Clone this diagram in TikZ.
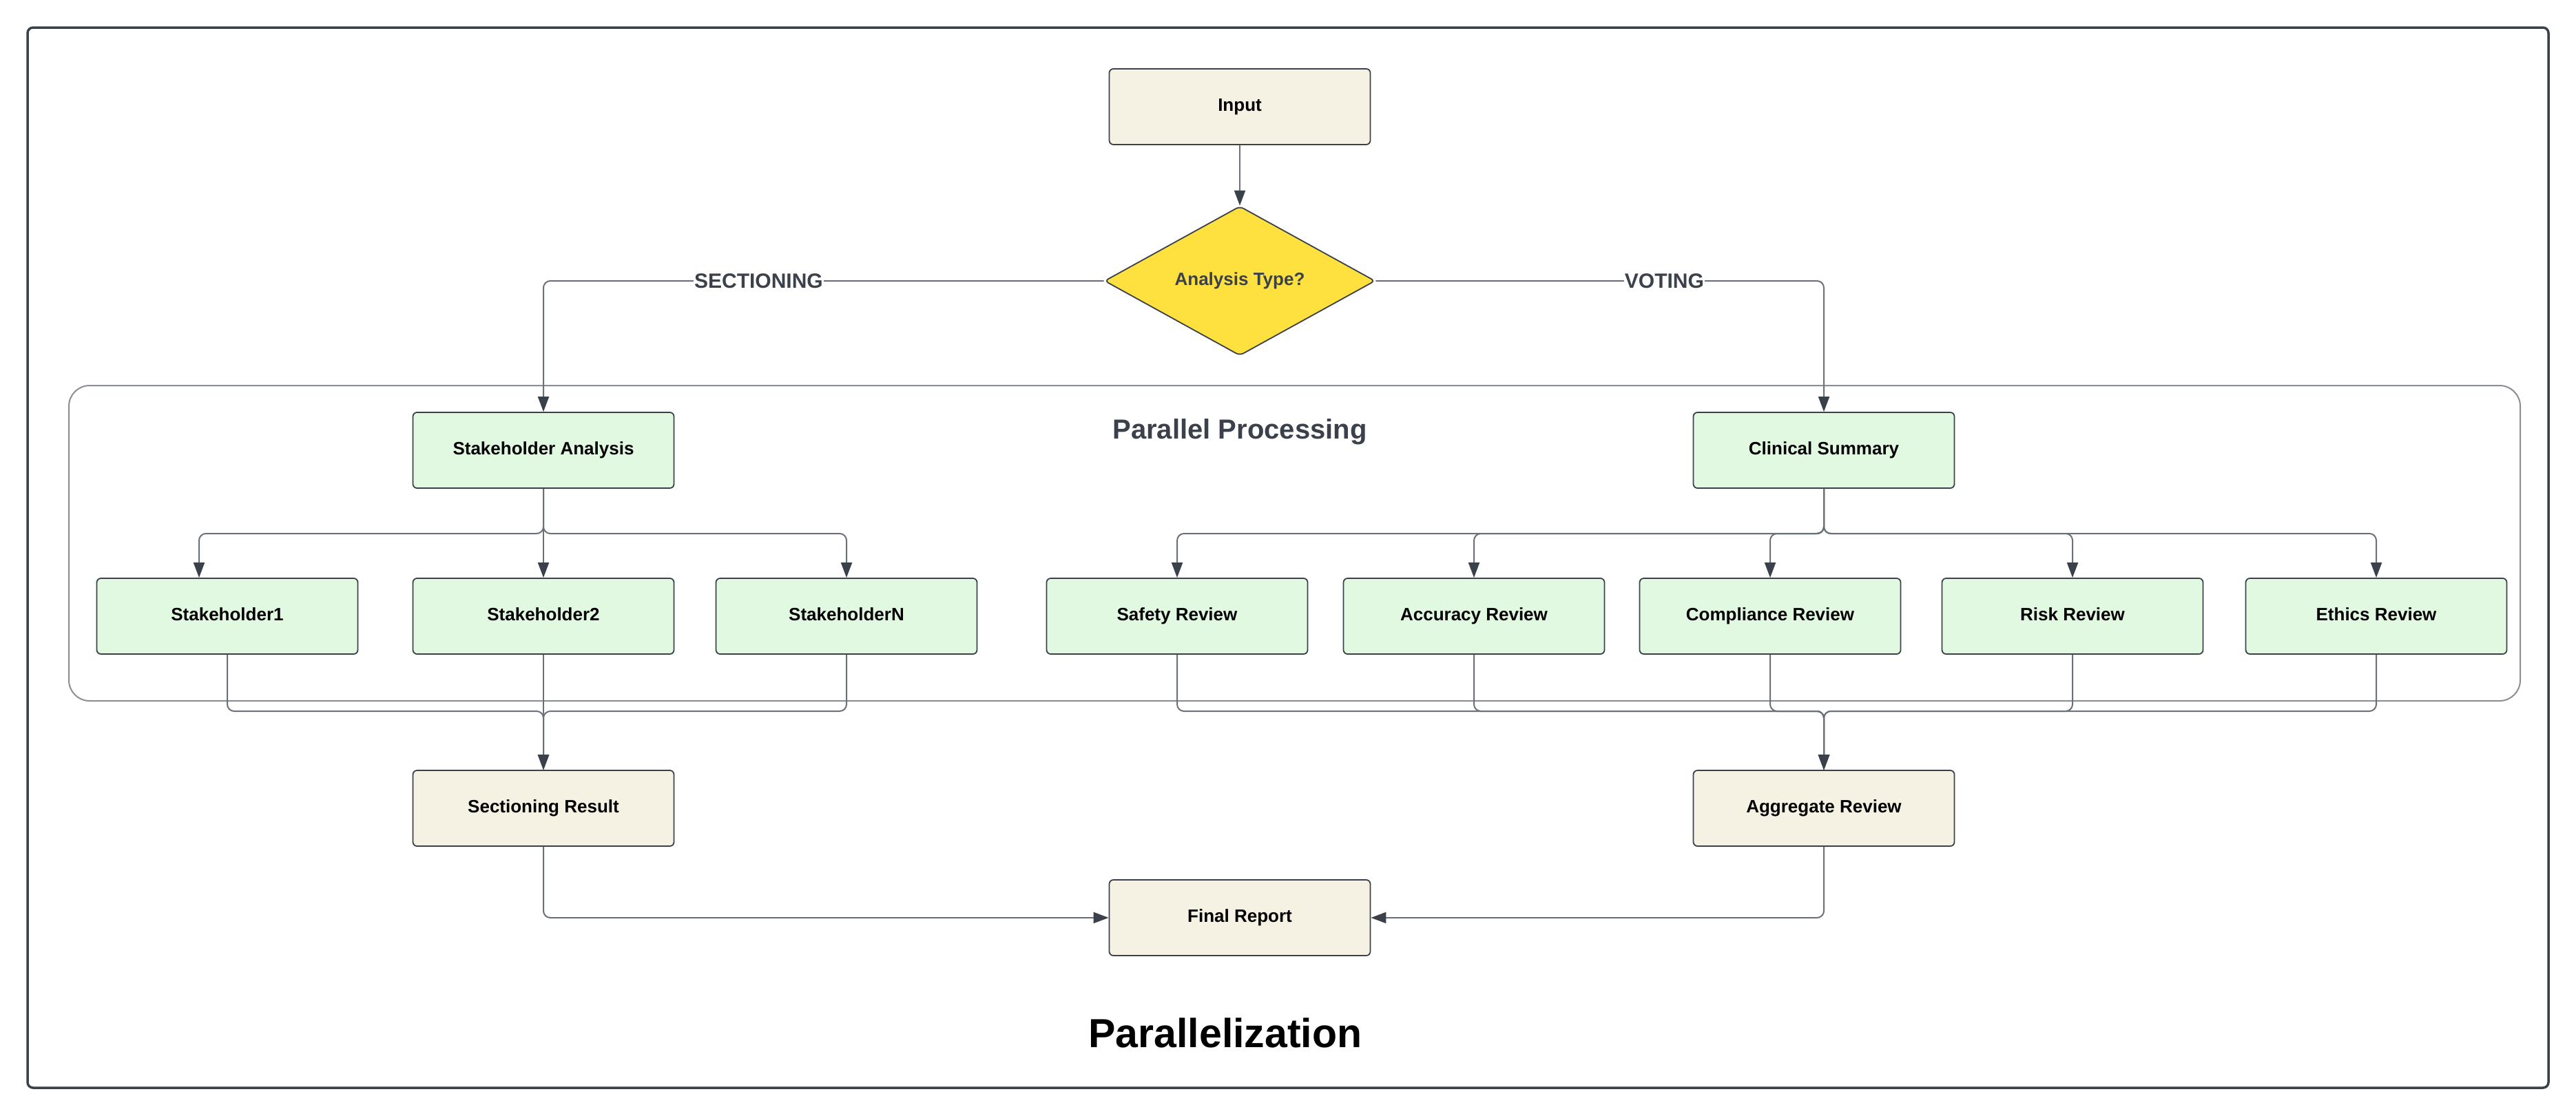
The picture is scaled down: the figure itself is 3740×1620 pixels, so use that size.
\documentclass[tikz,border=0pt]{standalone}
\usepackage{fontspec}
\setmainfont{Liberation Sans}
\usetikzlibrary{arrows.meta,shapes.geometric}
\definecolor{beige}{HTML}{F5F2E3}
\definecolor{greenf}{HTML}{E1F8E1}
\definecolor{yel}{HTML}{FEE13F}
\definecolor{edge}{HTML}{3A414A}
\definecolor{linec}{HTML}{6B7079}
\definecolor{contc}{HTML}{8A8F96}
\tikzset{
  box/.style={draw=edge, line width=1.8pt, rounded corners=6pt, minimum width=379pt, minimum height=110pt, inner sep=0pt, text height=19pt, text depth=6pt, text=black, font=\fontsize{26}{30}\selectfont\bfseries},
  beigebox/.style={box, fill=beige},
  greenbox/.style={box, fill=greenf},
  decision/.style={diamond, draw=edge, line width=1.8pt, fill=yel, aspect=1.81, minimum width=393pt, minimum height=217pt, inner sep=0pt, rounded corners=6pt, text=edge, font=\fontsize{26}{30}\selectfont\bfseries},
  conn/.style={draw=linec, line width=2pt, rounded corners=10pt, -{Triangle[length=22pt,width=16pt,color=edge]}},
  edgelabel/.style={fill=white, inner sep=1pt, text=edge, font=\fontsize{30}{34}\selectfont\bfseries}
}
\begin{document}
\begin{tikzpicture}[x=1pt,y=-1pt]
\useasboundingbox (0,0) rectangle (3740,1620);
\fill[white] (0,0) rectangle (3740,1620);
% outer frame
\draw[edge, line width=3.5pt, rounded corners=8pt] (40,40) rectangle (3700,1580);
% container
\draw[contc, line width=2pt, rounded corners=30pt] (100,560) rectangle (3659,1018);
\node[text=edge, font=\fontsize{40}{46}\selectfont\bfseries] (pp) at (1800,627) {Parallel Processing};
% nodes
\node[beigebox] (in) at (1800,155) {Input};
\node[decision] (dec) at (1800,408) {Analysis Type?};
\node[greenbox] (sa) at (789,654) {Stakeholder Analysis};
\node[greenbox] (cs) at (2648,654) {Clinical Summary};
\node[greenbox] (s1) at (330,895) {Stakeholder1};
\node[greenbox] (s2) at (789,895) {Stakeholder2};
\node[greenbox] (sn) at (1229,895) {StakeholderN};
\node[greenbox] (saf) at (1709,895) {Safety Review};
\node[greenbox] (acc) at (2140,895) {Accuracy Review};
\node[greenbox] (com) at (2570,895) {Compliance Review};
\node[greenbox] (risk) at (3009,895) {Risk Review};
\node[greenbox] (eth) at (3450,895) {Ethics Review};
\node[beigebox] (sr) at (789,1174) {Sectioning Result};
\node[beigebox] (ag) at (2648,1174) {Aggregate Review};
\node[beigebox] (fr) at (1800,1333) {Final Report};
\node[font=\fontsize{59}{66}\selectfont\bfseries, text=black] (title) at (1779,1500) {Parallelization};
% junction coordinates
\coordinate (bL) at (789,775);
\coordinate (bR) at (2648,775);
\coordinate (mL) at (789,1033);
\coordinate (mR) at (2648,1033);
% connectors
\draw[conn] (in.south) -- (dec.north);
\draw[conn] (dec.west) -| node[edgelabel, pos=0.308] (lsec) {SECTIONING} (sa.north);
\draw[conn] (dec.east) -| node[edgelabel, pos=0.322] (lvot) {VOTING} (cs.north);
% sectioning fan-out
\draw[conn] (sa.south) -- (bL) -| ([xshift=-41pt]s1.north);
\draw[conn] (sa.south) -- (s2.north);
\draw[conn] (sa.south) -- (bL) -| (sn.north);
% voting fan-out
\draw[conn] (cs.south) -- (bR) -| (saf.north);
\draw[conn] (cs.south) -- (bR) -| (acc.north);
\draw[conn] (cs.south) -- (bR) -| (com.north);
\draw[conn] (cs.south) -- (bR) -| (risk.north);
\draw[conn] (cs.south) -- (bR) -| (eth.north);
% sectioning merge
\draw[conn] (s1.south) |- (mL) -- (sr.north);
\draw[conn] (s2.south) -- (sr.north);
\draw[conn] (sn.south) |- (mL) -- (sr.north);
% voting merge
\draw[conn] (saf.south) |- (mR) -- (ag.north);
\draw[conn] (acc.south) |- (mR) -- (ag.north);
\draw[conn] (com.south) |- (mR) -- (ag.north);
\draw[conn] (risk.south) |- (mR) -- (ag.north);
\draw[conn] (eth.south) |- (mR) -- (ag.north);
% final
\draw[conn] (sr.south) |- (fr.west);
\draw[conn] (ag.south) |- (fr.east);
\end{tikzpicture}
\end{document}
